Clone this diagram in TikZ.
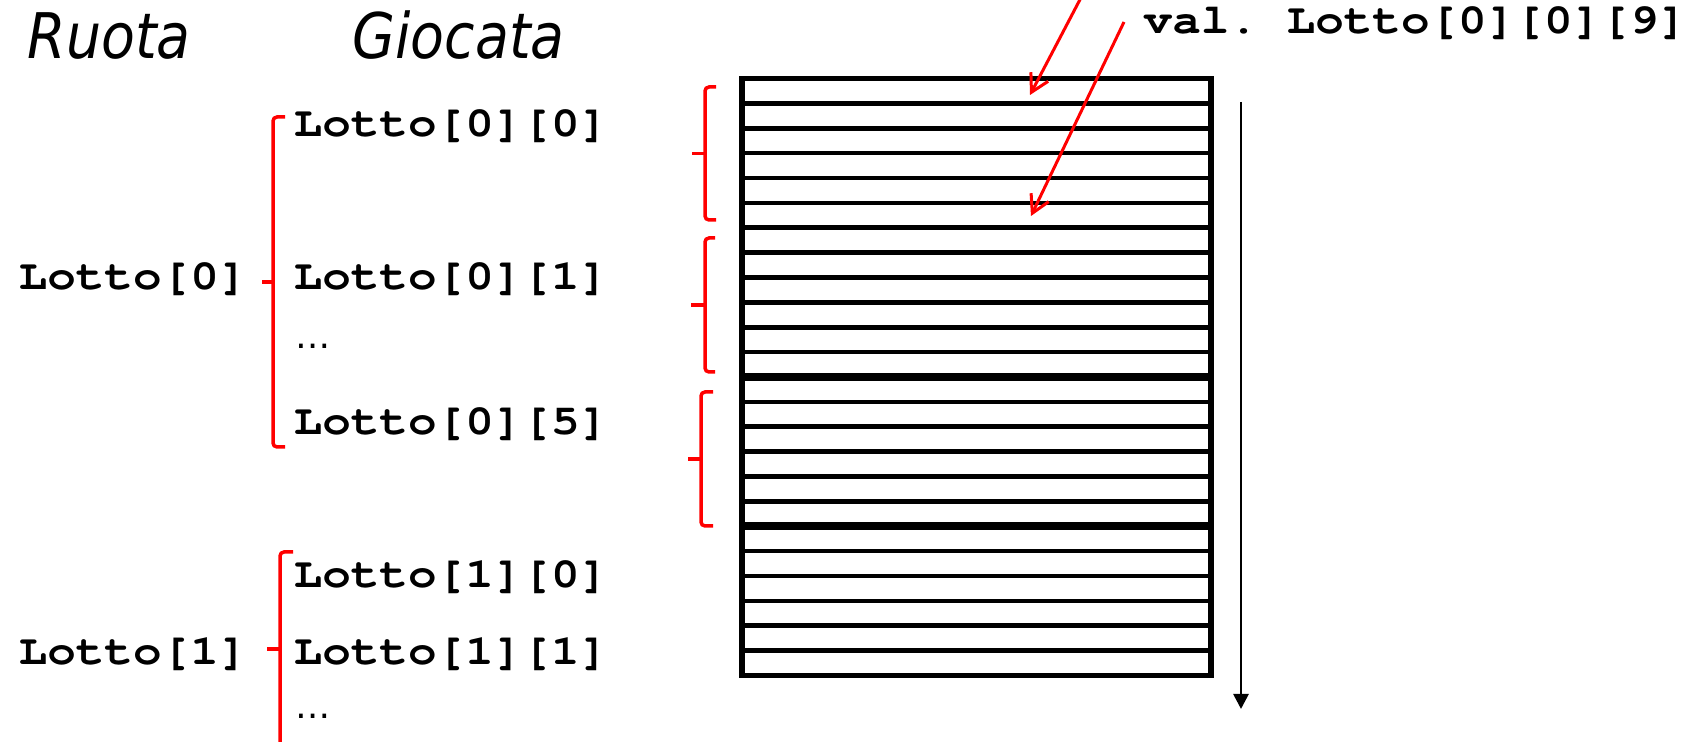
\documentclass[tikz,border=0pt]{standalone}
\usepackage[T1]{fontenc}
\usepackage{fontspec}
\usepackage{graphicx}
\usetikzlibrary{arrows.meta}

\newfontfamily\headfont[FakeStretch=0.88]{DejaVu Sans Oblique}
\newfontfamily\dotsfont{DejaVu Sans}
\newcommand\codefont{\fontencoding{T1}\fontfamily{pcr}\fontseries{b}\fontshape{n}\fontsize{12}{14}\selectfont\frenchspacing}
\newcommand\codetext[1]{\scalebox{1.13}[1]{#1}}

\begin{document}
\begin{tikzpicture}[x=0.1mm,y=-0.1mm,
    head/.style={anchor=base west,inner sep=0pt,font=\headfont\fontsize{17.9}{20}\selectfont},
    code/.style={anchor=base west,inner sep=0pt,font=\codefont},
    dots/.style={anchor=base west,inner sep=0pt,font=\dotsfont\fontsize{10}{12}\selectfont},
    redbrace/.style={red,line width=0.35mm,rounded corners=0.4mm},
    pointer/.style={red,line width=0.3mm,-{Straight Barb[length=1.75mm,width=1.95mm]}},
    slot/.style={line width=0.47mm}]
  \useasboundingbox (0,0) rectangle (1689,742);

  % column headings
  \node[head] (ruota) at (27,59) {Ruota};
  \node[head] (giocata) at (352,59) {Giocata};

  % wheels and their plays
  \node[code] (l0) at (18,290) {\codetext{Lotto[0]}};
  \node[code] (l00) at (293,137) {\codetext{Lotto[0][0]}};
  \node[code] (l01) at (293,290) {\codetext{Lotto[0][1]}};
  \node[dots] (l0dots) at (295,349) {…};
  \node[code] (l05) at (293,435) {\codetext{Lotto[0][5]}};

  \node[code] (l1) at (18,665) {\codetext{Lotto[1]}};
  \node[code] (l10) at (293,588) {\codetext{Lotto[1][0]}};
  \node[code] (l11) at (293,665) {\codetext{Lotto[1][1]}};
  \node[dots] (l1dots) at (295,719) {…};

  % braces: bar x / top / bottom / hook / tip
  \foreach \bx/\ya/\yb/\hk/\tp in {273/117/447/12/11, 280/552/746/13/13,
                                   705/87/220/11/13, 705/238/372/10/14, 701/392/526/12/13} {
    \draw[redbrace] (\bx+\hk,\ya) -- (\bx,\ya) -- (\bx,\yb) -- (\bx+\hk,\yb);
    \draw[redbrace] (\bx,{(\ya+\yb)/2}) -- (\bx-\tp,{(\ya+\yb)/2});
  }

  % the array as it sits in memory, one slot per number
  \draw[line width=0.55mm] (742,78.5) rectangle (1211,675.5);
  \foreach \i in {1,...,23}
    \draw[slot] (742,78.5+24.875*\i) -- (1211,78.5+24.875*\i);
  \foreach \i in {12,18}
    \draw[line width=0.8mm] (742,78.5+24.875*\i) -- (1211,78.5+24.875*\i);

  % addresses grow downwards
  \coordinate (dirtop) at (1241,102);
  \coordinate (dirbot) at (1241,709);
  \draw[line width=0.27mm,-{Triangle[length=1.5mm,width=1.5mm]}] (dirtop) -- (dirbot);

  % pointers into the block
  \node[code] (val) at (1143,34) {\codetext{val. Lotto[0][0][9]}};
  \coordinate (from0) at (1085,-10);
  \coordinate (cell0) at (1030,95);
  \coordinate (from9) at (1124,22);
  \coordinate (cell9) at (1031,216);
  \draw[pointer] (from0) -- (cell0);
  \draw[pointer] (from9) -- (cell9);
\end{tikzpicture}
\end{document}
